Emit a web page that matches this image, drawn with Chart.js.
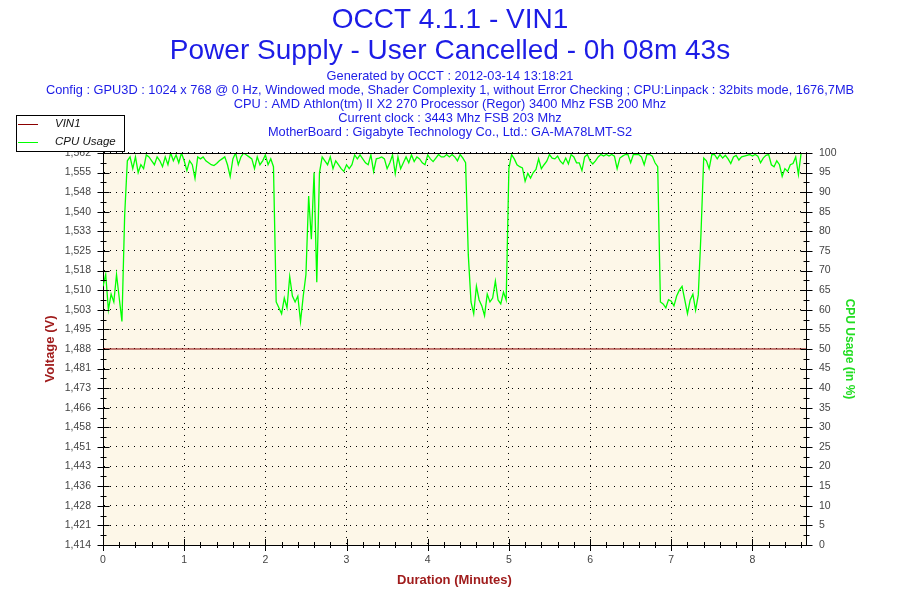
<!DOCTYPE html>
<html>
<head>
<meta charset="utf-8">
<title>OCCT 4.1.1 - VIN1</title>
<script src="https://cdn.jsdelivr.net/npm/chart.js@4.4.0/dist/chart.umd.min.js"></script>
<style>
  html, body { margin: 0; padding: 0; background: #fff; }
  #chart { display: block; }
</style>
</head>
<body>
<canvas id="chart" width="900" height="600"></canvas>
<script>
var titleLines = ['OCCT 4.1.1 - VIN1', 'Power Supply - User Cancelled - 0h 08m 43s'];
var infoLines = [
    'Generated by OCCT : 2012-03-14 13:18:21',
    'Config : GPU3D : 1024 x 768 @ 0 Hz, Windowed mode, Shader Complexity 1, without Error Checking ; CPU:Linpack : 32bits mode, 1676,7MB',
    'CPU : AMD Athlon(tm) II X2 270 Processor (Regor) 3400 Mhz FSB 200 Mhz',
    'Current clock : 3443 Mhz FSB 203 Mhz',
    'MotherBoard : Gigabyte Technology Co., Ltd.: GA-MA78LMT-S2'
];

// left axis (Voltage)
var voltTickLabels = ['1,414', '1,421', '1,428', '1,436', '1,443', '1,451', '1,458', '1,466', '1,473', '1,481',
    '1,488', '1,495', '1,503', '1,510', '1,518', '1,525', '1,533', '1,540', '1,548', '1,555', '1,562'];
var voltMin = 1.4136;
var voltMax = 1.5624;

// VIN1 reading (flat)
var voltMinutes = [0, 8.66];
var voltValues = [1.488, 1.488];

// CPU usage, one sample every 2 seconds
var cpuSampleSeconds = 2;
var cpuUsage = [
    66, 69, 60, 64, 62, 69, 63, 57, 84, 98,
    99, 96, 99, 95, 97, 96, 99.5, 99, 98, 97, 99, 98, 96.5, 99, 97, 100, 98, 99.5, 97.5, 100,
    98, 95.5, 98, 97, 93.5, 99, 98.5, 99, 98, 97.5, 97, 96.8, 97.3, 98, 98.5, 99, 97, 94, 98.5, 100,
    97, 99, 100, 99.5, 99, 98.5, 96, 99, 97, 98, 99.5, 97, 98.5, 96.5,
    62, 60.5, 59, 63, 60.5, 68.5, 63.5, 62, 63.5, 57, 63.5,
    69, 89, 78, 95, 67, 95, 99,
    98, 97, 99, 96,
    98, 97, 96, 95.3, 97, 96, 97, 99.5, 98.5, 99.5, 98.5, 97.5, 97, 99.5, 95.3, 98.5, 98.7, 99, 98.5, 96,
    97.5, 99.5, 94.7, 99, 96, 97.5, 99, 97.5, 99.5, 97.8, 99, 98.5, 97.5, 97, 99.5, 98.5, 97.8, 98.7, 99.6, 99,
    99, 99.6, 99, 99.6, 99, 98, 99.6, 98.7, 97.5,
    74, 62,
    59, 66, 62.5, 61, 58.5, 64, 62, 63, 67.3, 62.5, 61.5, 64.5, 62.5,
    96,
    99.6, 98.5, 97, 96.5, 96.2, 92.8, 94.8, 93.6, 95, 95.8, 98.5, 96, 97, 97.9, 99.6, 98.7, 98.5, 99.2, 97.9, 97.2,
    98.7, 97.2,
    99.6, 99, 97.5, 97.5, 95.5, 99, 99.6, 98, 97.2, 98, 99, 99.6, 99.2, 99.6, 99.2, 99.6, 99.2, 96, 98.7, 99.2,
    99.6, 99.6, 97.5, 99.6, 99.6, 99.6, 99, 97, 99.6, 99.6, 99.2, 97.5, 96.5,
    62, 61.5, 60.5, 62.6, 62.2, 61, 63.5, 65, 66, 62.5, 59, 62.5, 64, 59.9, 63.8,
    79.6, 98.7,
    98, 96, 99.6, 99.6, 98.5, 99.6, 98.7, 99.4, 98.5, 97.3, 99, 99.4, 98.2, 99, 99.2, 99.4, 99.6, 99.2, 99.6, 99.2,
    97.5, 98.7, 99.4, 99.6, 97, 96.5, 98, 97, 94, 96, 95.3, 97, 97.3, 99, 94.5, 100
];

var durationMax = 8.66;

var blue = '#1c1ce6';
var axisRed = '#a01c1c';
var cpuGreen = '#00ff00';
var fontFamily = '"Liberation Sans", Arial, sans-serif';

var voltPoints = voltMinutes.map(function (m, i) { return {x: m, y: voltValues[i]}; });
var cpuPoints = cpuUsage.map(function (v, i) { return {x: i * cpuSampleSeconds / 60, y: v}; });

// cream plot background
var plotBackground = {
    id: 'plotBackground',
    beforeDraw: function (chart) {
        var a = chart.chartArea, ctx = chart.ctx;
        ctx.save();
        ctx.fillStyle = '#fdf7e8';
        ctx.fillRect(a.left, a.top, a.right - a.left, a.bottom - a.top);
        ctx.restore();
    }
};

// top border + tick marks crossing the axes
var axisTicks = {
    id: 'axisTicks',
    afterDraw: function (chart) {
        var ctx = chart.ctx, a = chart.chartArea;
        var sx = chart.scales.x, sv = chart.scales.yV, sc = chart.scales.yCpu;
        ctx.save();
        ctx.strokeStyle = '#000';
        ctx.lineWidth = 1;
        ctx.beginPath();
        ctx.moveTo(a.left, Math.round(a.top) + 0.5);
        ctx.lineTo(a.right, Math.round(a.top) + 0.5);

        for (var i = 0; i * 0.2 <= durationMax + 0.001; i++) {
            var px = Math.round(sx.getPixelForValue(i * 0.2)) + 0.5;
            var len = (i % 5 === 0) ? 6 : 3;
            ctx.moveTo(px, a.bottom - len);
            ctx.lineTo(px, a.bottom + len);
        }

        function vTicks(scale, xPos) {
            var n = scale.ticks.length;
            for (var j = 0; j < n; j++) {
                var py = Math.round(scale.getPixelForTick(j)) + 0.5;
                ctx.moveTo(xPos - 6, py);
                ctx.lineTo(xPos + 6, py);
                if (j < n - 1) {
                    var my = Math.round((scale.getPixelForTick(j) + scale.getPixelForTick(j + 1)) / 2) + 0.5;
                    ctx.moveTo(xPos - 3, my);
                    ctx.lineTo(xPos + 3, my);
                }
            }
        }
        vTicks(sv, Math.round(a.left) + 0.5);
        vTicks(sc, Math.round(a.right) + 0.5);
        ctx.stroke();
        ctx.restore();
    }
};

// boxed legend at the top left
var boxLegend = {
    id: 'boxLegend',
    afterDraw: function (chart) {
        var ctx = chart.ctx;
        ctx.save();
        ctx.fillStyle = '#fff';
        ctx.fillRect(16, 115, 108, 37);
        ctx.strokeStyle = '#000';
        ctx.lineWidth = 1;
        ctx.strokeRect(16.5, 115.5, 108, 36);
        ctx.font = 'italic 11.5px ' + fontFamily;
        ctx.textBaseline = 'middle';
        chart.data.datasets.forEach(function (ds, i) {
            var y = 124 + i * 17.5;
            ctx.strokeStyle = ds.borderColor;
            ctx.beginPath();
            ctx.moveTo(18, Math.round(y) + 0.5);
            ctx.lineTo(38, Math.round(y) + 0.5);
            ctx.stroke();
            ctx.fillStyle = '#111';
            ctx.fillText(ds.label, 55, y);
        });
        ctx.restore();
    }
};

var tickFont = {family: fontFamily, size: 10.5};

new Chart(document.getElementById('chart'), {
    type: 'line',
    data: {
        datasets: [
            {
                label: 'VIN1',
                data: voltPoints,
                yAxisID: 'yV',
                borderColor: '#8b0000',
                borderWidth: 1,
                pointRadius: 0
            },
            {
                label: 'CPU Usage',
                data: cpuPoints,
                yAxisID: 'yCpu',
                borderColor: cpuGreen,
                borderWidth: 1.3,
                pointRadius: 0
            }
        ]
    },
    options: {
        responsive: false,
        animation: false,
        devicePixelRatio: 1,
        layout: {padding: 0},
        plugins: {
            legend: {display: false},
            tooltip: {enabled: false},
            title: {
                display: true,
                text: titleLines,
                color: blue,
                font: {family: fontFamily, size: 28, weight: 'normal', lineHeight: 1.11},
                padding: {top: 4.5, bottom: 2.6}
            },
            subtitle: {
                display: true,
                text: infoLines,
                color: blue,
                font: {family: fontFamily, size: 12.8, weight: 'normal', lineHeight: 1.094},
                padding: {top: 0, bottom: 13.7}
            }
        },
        scales: {
            x: {
                type: 'linear',
                min: 0,
                max: durationMax,
                afterBuildTicks: function (axis) {
                    axis.ticks = axis.ticks.filter(function (t) { return Number.isInteger(t.value); });
                },
                afterFit: function (axis) { axis.height = 55; },
                ticks: {stepSize: 1, autoSkip: false, maxRotation: 0, color: '#444', font: tickFont, padding: 9},
                grid: {color: '#000', lineWidth: 1, drawTicks: false},
                border: {display: true, color: '#000', width: 1, dash: [1, 5]},
                title: {
                    display: true,
                    text: 'Duration (Minutes)',
                    color: axisRed,
                    font: {family: fontFamily, size: 13, weight: 'bold', lineHeight: 1.2},
                    padding: {top: 0, bottom: 12.2}
                }
            },
            yV: {
                type: 'linear',
                position: 'left',
                min: voltMin,
                max: voltMax,
                afterFit: function (axis) { axis.width = 103; },
                ticks: {
                    count: voltTickLabels.length,
                    autoSkip: false,
                    color: '#444',
                    font: tickFont,
                    padding: 12,
                    callback: function (value, index) { return voltTickLabels[index]; }
                },
                grid: {color: '#000', lineWidth: 1, drawTicks: false},
                border: {display: true, color: '#000', width: 1, dash: [1, 5]},
                title: {
                    display: true,
                    text: 'Voltage (V)',
                    color: axisRed,
                    font: {family: fontFamily, size: 13, weight: 'bold', lineHeight: 1.2},
                    padding: {top: 43, bottom: 0}
                }
            },
            yCpu: {
                type: 'linear',
                position: 'right',
                min: 0,
                max: 100,
                afterFit: function (axis) { axis.width = 94; },
                ticks: {stepSize: 5, autoSkip: false, color: '#444', font: tickFont, padding: 13},
                grid: {drawOnChartArea: false, drawTicks: false},
                border: {display: true, color: '#000', width: 1},
                title: {
                    display: true,
                    text: 'CPU Usage (in %)',
                    color: '#22dd22',
                    font: {family: fontFamily, size: 12, weight: 'bold', lineHeight: 1.2},
                    padding: {top: 43.8, bottom: 0}
                }
            }
        }
    },
    plugins: [plotBackground, axisTicks, boxLegend]
});
</script>
</body>
</html>
